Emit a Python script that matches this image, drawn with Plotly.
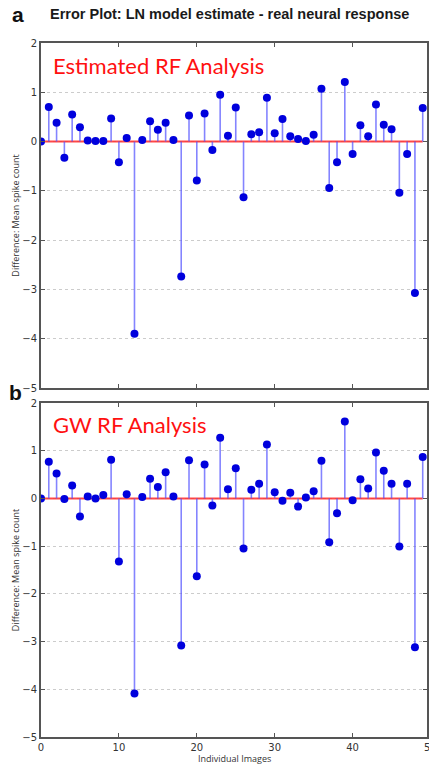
import plotly.graph_objects as go

images = list(range(50))

ln_error = [0.00, 0.70, 0.38, -0.33, 0.55, 0.29, 0.02, 0.01, 0.01, 0.47,
            -0.42, 0.07, -3.90, 0.03, 0.41, 0.24, 0.38, 0.03, -2.74, 0.53,
            -0.79, 0.57, -0.17, 0.95, 0.12, 0.69, -1.13, 0.15, 0.19, 0.89,
            0.17, 0.46, 0.11, 0.05, 0.01, 0.14, 1.07, -0.94, -0.42, 1.21,
            -0.25, 0.33, 0.11, 0.75, 0.34, 0.25, -1.04, -0.25, -3.07, 0.68]

gw_error = [0.00, 0.77, 0.52, -0.01, 0.27, -0.38, 0.04, 0.00, 0.07, 0.81,
            -1.32, 0.09, -4.09, 0.03, 0.41, 0.24, 0.55, 0.04, -3.08, 0.80,
            -1.63, 0.71, -0.15, 1.27, 0.19, 0.63, -1.05, 0.18, 0.31, 1.13,
            0.13, -0.05, 0.12, -0.17, 0.02, 0.15, 0.79, -0.92, -0.31, 1.61,
            -0.04, 0.40, 0.21, 0.96, 0.58, 0.31, -1.01, 0.31, -3.12, 0.87]

x_ticks = [0, 10, 20, 30, 40, 50]
y_ticks = [-5, -4, -3, -2, -1, 0, 1, 2]
panel_titles = ["Estimated RF Analysis", "GW RF Analysis"]
panel_letters = ["a", "b"]
main_title = "Error Plot: LN model estimate - real neural response"
x_title = "Individual Images"
y_title = "Difference: Mean spike count"

X_RANGE = [0, 49.55]
W, H = 429, 767
ML, MR, MT, MB = 41, 0, 43, 30
plot_h = H - MT - MB
top_dom = [1 - 345 / plot_h, 1]
bot_dom = [0, 1 - 360 / plot_h]

STEM = "rgba(80,80,255,0.7)"
MARK = "#0000dd"
BASE = "rgba(255,40,40,0.85)"
AX = "#555555"
TICKFONT = dict(family="DejaVu Sans", size=10, color="#333333")

fig = go.Figure()

for k, (vals, xa, ya) in enumerate([(ln_error, "x", "y"), (gw_error, "x2", "y2")]):
    # baseline
    fig.add_trace(go.Scatter(
        x=[images[0], images[-1]], y=[0, 0], xaxis=xa, yaxis=ya, mode="lines",
        line=dict(color=BASE, width=2), hoverinfo="skip", showlegend=False))
    # stems via asymmetric error bars
    fig.add_trace(go.Scatter(
        x=images, y=vals, xaxis=xa, yaxis=ya, mode="markers",
        marker=dict(color=MARK, size=8),
        error_y=dict(type="data", symmetric=False,
                     array=[max(-v, 0) for v in vals],
                     arrayminus=[max(v, 0) for v in vals],
                     color=STEM, thickness=1.6, width=0),
        showlegend=False))

common_x = dict(range=X_RANGE, tickvals=x_ticks, ticks="inside", ticklen=4,
                tickcolor=AX, showline=True, linecolor=AX, linewidth=2,
                mirror="ticks", showgrid=False, zeroline=False,
                tickfont=TICKFONT)
common_y = dict(range=[-5, 2], tickvals=y_ticks, ticks="inside", ticklen=4,
                tickcolor=AX, showline=True, linecolor=AX, linewidth=2,
                mirror="ticks", showgrid=True, gridcolor="#cccccc",
                griddash="3px,3px", gridwidth=1, zeroline=False,
                tickfont=TICKFONT)

fig.update_layout(
    width=W, height=H, margin=dict(l=ML, r=MR, t=MT, b=MB),
    paper_bgcolor="white", plot_bgcolor="white",
    xaxis=dict(common_x, domain=[0, 1], anchor="y", showticklabels=False),
    yaxis=dict(common_y, domain=top_dom, anchor="x"),
    xaxis2=dict(common_x, domain=[0, 1], anchor="y2"),
    yaxis2=dict(common_y, domain=bot_dom, anchor="x2"),
)

ann = []
ann.append(dict(text="<b>" + main_title + "</b>", xref="paper", yref="paper",
                x=(230 - ML) / (W - ML - MR), y=1 + (MT - 14) / plot_h,
                xanchor="center", yanchor="middle", showarrow=False,
                font=dict(family="Liberation Sans", size=14.5, color="#1a1a1a")))
letter_y = [1 + (MT - 15) / plot_h, 1 - (392 - MT) / plot_h]
letter_x = [18, 15]
for let, lx, ly in zip(panel_letters, letter_x, letter_y):
    ann.append(dict(text="<b>" + let + "</b>", xref="paper", yref="paper",
                    x=(lx - ML) / (W - ML - MR), y=ly, xanchor="center", yanchor="middle",
                    showarrow=False, font=dict(family="Liberation Sans", size=21, color="#111")))
for t, yr in zip(panel_titles, ["y domain", "y2 domain"]):
    ann.append(dict(text=t, xref="paper", yref=yr, x=(51 - ML) / (W - ML - MR), y=0.935,
                    xanchor="left", yanchor="middle", showarrow=False,
                    font=dict(family="Lato", size=22, color="#ff1010")))
for yr in ["y domain", "y2 domain"]:
    ann.append(dict(text=y_title, xref="paper", yref=yr, x=(15 - ML) / (W - ML - MR), y=0.5,
                    textangle=-90, xanchor="center", yanchor="middle", showarrow=False,
                    font=dict(family="Open Sans", size=9, color="#333")))
ann.append(dict(text=x_title, xref="paper", yref="paper", x=0.5, y=-(759 - (H - MB)) / plot_h,
                xanchor="center", yanchor="middle", showarrow=False,
                font=dict(family="Open Sans", size=9, color="#333")))
# last tick label, just past the right edge of the visible area
ann.append(dict(text=str(x_ticks[-1]), xref="paper", yref="paper",
                x=(x_ticks[-1] - X_RANGE[0]) / (X_RANGE[1] - X_RANGE[0]),
                y=-(747 - (H - MB)) / plot_h, xanchor="center", yanchor="middle",
                showarrow=False, font=TICKFONT))
fig.update_layout(annotations=ann)

fig.write_html("out.html")
